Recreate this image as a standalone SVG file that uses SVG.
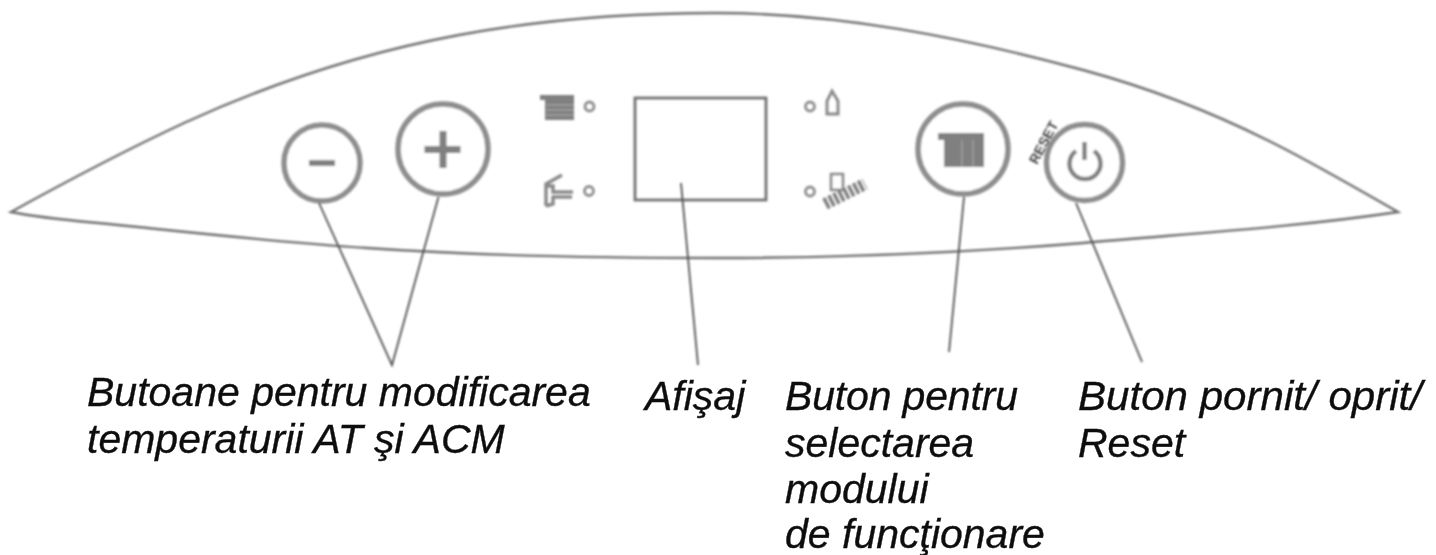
<svg xmlns="http://www.w3.org/2000/svg" width="1436" height="555" viewBox="0 0 1436 555">
<style>
.o{fill:none;stroke:#6f6f6f;stroke-width:2.4}
.btn{fill:#fff;stroke:#8e8e8e;stroke-width:5.5}
.ln{fill:none;stroke:#4f4f4f;stroke-width:1.8}
.g{fill:#808080}
.s{fill:none;stroke:#b0b0b0;stroke-width:1}
.led{fill:none;stroke:#8e8e8e;stroke-width:2.8}
.ic{fill:none;stroke:#8a8a8a}
.t{font-family:"Liberation Sans",Arial,sans-serif;font-style:italic;font-size:41px;fill:#111;stroke:#111;stroke-width:0.35}
</style>
<defs>
<filter id="soft" x="-5%" y="-5%" width="110%" height="110%"><feGaussianBlur stdDeviation="0.8"/></filter>
<filter id="softT" x="-5%" y="-5%" width="110%" height="110%"><feGaussianBlur stdDeviation="0.55"/></filter>
</defs>
<rect width="1436" height="555" fill="#fff"/>
<g filter="url(#soft)">
<g id="panel"><path class="o" d="M11 212C69 180 126 150 184 123C276 81 367 52 459 35C545 19 630 13 716 13C838 13 961 37 1083 70C1144 86.500 1206 109.500 1267 140C1310 161 1352 186 1398 212C1290 228 1180 234 1083 243C960 253 840 258 716 258C600 258 480 256 367 248C290 243 215 235 138 227C95 222 50 220 11 212Z"/></g>
<g id="btn-minus"><circle class="btn" cx="322" cy="163" r="38"/><rect class="g" x="309" y="160" width="26" height="6"/></g>
<g id="btn-plus"><circle class="btn" cx="443" cy="149" r="45"/><path class="g" d="M439.500 131h7v15h14v7h-14v15h-7v-15h-15v-7h15z"/></g>
<g id="display"><rect x="635" y="98" width="131" height="102" fill="none" stroke="#707070" stroke-width="2.8"/></g>
<g id="ind-radiator"><path class="g" d="M540 95h34v25h-29v-20h-5z"/><path class="s" d="M546 105h28M546 110h28M546 115h28"/><circle class="led" cx="589.500" cy="106.500" r="4.500"/></g>
<g id="ind-tap"><path class="ic" stroke-width="3.500" d="M546 206V184L562 175M546 186h7v6h20M552 197h20M546 206l7-2v-8"/><circle class="led" cx="589" cy="191" r="4.500"/></g>
<g id="ind-flame"><circle class="led" cx="810" cy="106.500" r="4.500"/><path class="ic" stroke-width="3" d="M827 114V101L832 91L838 101V114Z"/></g>
<g id="ind-chimney"><circle class="led" cx="810" cy="191.500" r="4.500"/><rect x="831" y="174" width="12" height="16" class="ic" stroke-width="2.500"/><path d="M825 204L865 184" stroke="#808080" stroke-width="12" stroke-dasharray="3.500 2" fill="none"/></g>
<g id="btn-mode"><circle class="btn" cx="963" cy="149" r="45"/><path class="g" d="M938 133h46v34h-40v-27h-6z"/><path class="s" d="M962 140v27M973 140v27"/></g>
<g id="btn-power"><circle class="btn" cx="1084.500" cy="162.500" r="38"/><path d="M1076 151a15.500 15.500 0 1 0 18 0" fill="none" stroke="#808080" stroke-width="4.500"/><path d="M1084.500 142v18" stroke="#808080" stroke-width="4.500"/>
<text transform="translate(1037 165) rotate(-62)" font-family="Liberation Sans,sans-serif" font-weight="bold" font-size="14" textLength="46" lengthAdjust="spacingAndGlyphs" fill="#444">RESET</text></g>
<g id="connectors">
<path class="ln" d="M319 203L392 365L438.500 197"/>
<path class="ln" d="M681 183L698 365"/>
<path class="ln" d="M964 197L949 352"/>
<path class="ln" d="M1076 203L1142 362"/>
</g>
</g>
<g id="labels" filter="url(#softT)">
<text class="t" x="87" y="406">Butoane pentru modificarea</text>
<text class="t" x="87" y="453">temperaturii AT şi ACM</text>
<text class="t" x="645" y="410">Afişaj</text>
<text class="t" x="785" y="410" textLength="233">Buton pentru</text>
<text class="t" x="785" y="457">selectarea</text>
<text class="t" x="785" y="503">modului</text>
<text class="t" x="785" y="548">de funcţionare</text>
<text class="t" x="1078" y="410" textLength="344" lengthAdjust="spacingAndGlyphs">Buton pornit/ oprit/</text>
<text class="t" x="1078" y="457">Reset</text>
</g>
</svg>
